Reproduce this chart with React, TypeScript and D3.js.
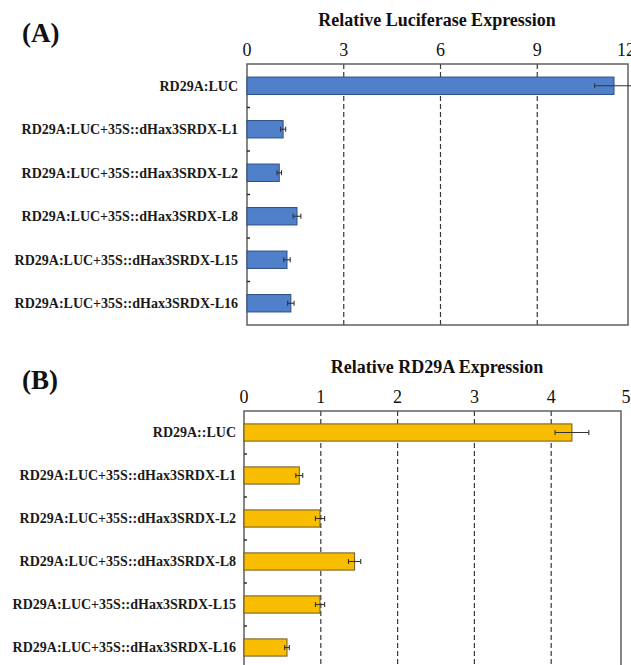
import React from "react";
import * as d3 from "d3";

// categories for each panel
const categoriesA = [
  "RD29A:LUC",
  "RD29A:LUC+35S::dHax3SRDX-L1",
  "RD29A:LUC+35S::dHax3SRDX-L2",
  "RD29A:LUC+35S::dHax3SRDX-L8",
  "RD29A:LUC+35S::dHax3SRDX-L15",
  "RD29A:LUC+35S::dHax3SRDX-L16",
];
const categoriesB = [
  "RD29A::LUC",
  "RD29A:LUC+35S::dHax3SRDX-L1",
  "RD29A:LUC+35S::dHax3SRDX-L2",
  "RD29A:LUC+35S::dHax3SRDX-L8",
  "RD29A:LUC+35S::dHax3SRDX-L15",
  "RD29A:LUC+35S::dHax3SRDX-L16",
];

// values
const luciferase = [11.38, 1.12, 1.0, 1.55, 1.24, 1.36];
const luciferaseErr = [0.6, 0.08, 0.07, 0.12, 0.1, 0.1];
const rd29a = [4.27, 0.72, 0.99, 1.44, 0.99, 0.56];
const rd29aErr = [0.22, 0.045, 0.06, 0.08, 0.06, 0.03];

const ticksA = [0, 3, 6, 9, 12];
const ticksB = [0, 1, 2, 3, 4, 5];

const W = 631;
const H = 665;
const FONT = "Liberation Serif, DejaVu Serif, Times New Roman, serif";

type PanelProps = {
  tag: string;
  title: string;
  cats: string[];
  values: number[];
  errs: number[];
  ticks: number[];
  x0: number;
  x1: number;
  frameRight: number;
  top: number;
  step: number;
  labelX: number;
  fill: string;
  stroke: string;
};

const Panel = (p: PanelProps) => {
  const max = p.ticks[p.ticks.length - 1];
  const x = d3.scaleLinear().domain([0, max]).range([p.x0, p.x1]);
  const bottom = p.top + p.step * p.cats.length;
  const y = d3
    .scaleBand()
    .domain(p.cats)
    .range([p.top, bottom])
    .paddingInner(0.6)
    .paddingOuter(0.3);
  const bw = y.bandwidth();
  const gridColor = "#3a3a3a";
  const frameColor = "#555";

  return (
    <g style={{ fontFamily: FONT }}>
      {/* panel tag and title */}
      <text x={22} y={p.top - 22} fontWeight="bold" fontSize={27} fill="#111">
        {p.tag}
      </text>
      <text x={437} y={p.top - 38} textAnchor="middle" fontWeight="bold" fontSize={18} fill="#111">
        {p.title}
      </text>

      {/* top axis labels (last one pulled in a little, like the cropped original) */}
      {p.ticks.map((t) => (
        <text
          key={t}
          x={Math.min(x(t), W - 5)}
          y={p.top - 8}
          textAnchor="middle"
          fontSize={18}
          fill="#111"
        >
          {t}
        </text>
      ))}

      {/* dashed grid lines */}
      {p.ticks.slice(1).map((t) =>
        x(t) < p.frameRight - 2 ? (
          <line
            key={"g" + t}
            x1={x(t)}
            x2={x(t)}
            y1={p.top}
            y2={bottom}
            stroke={gridColor}
            strokeWidth={1.2}
            strokeDasharray="5,3"
          />
        ) : null
      )}

      {/* frame */}
      <rect
        x={p.x0}
        y={p.top}
        width={p.frameRight - p.x0}
        height={bottom - p.top}
        fill="none"
        stroke={frameColor}
        strokeWidth={1.4}
      />

      {/* small ticks on category axis */}
      {p.cats.slice(1).map((c) => {
        const yy = (y(c) as number) - (y.step() - bw) / 2;
        return (
          <line key={"t" + c} x1={p.x0} x2={p.x0 + 3} y1={yy} y2={yy} stroke="#222" strokeWidth={1.4} />
        );
      })}

      {/* bars */}
      {p.cats.map((c, i) => (
        <rect
          key={"b" + c}
          x={x(0)}
          y={y(c) as number}
          width={x(p.values[i]) - x(0)}
          height={bw}
          fill={p.fill}
          stroke={p.stroke}
          strokeWidth={1}
        />
      ))}

      {/* error bars */}
      {p.cats.map((c, i) => {
        const cy = (y(c) as number) + bw / 2;
        const lo = x(p.values[i] - p.errs[i]);
        const hi = x(p.values[i] + p.errs[i]);
        return (
          <g key={"e" + c} stroke="#333" strokeWidth={1.1}>
            <line x1={lo} x2={hi} y1={cy} y2={cy} />
            <line x1={lo} x2={lo} y1={cy - 2.5} y2={cy + 2.5} />
            <line x1={hi} x2={hi} y1={cy - 2.5} y2={cy + 2.5} />
          </g>
        );
      })}

      {/* category labels */}
      {p.cats.map((c) => (
        <text
          key={"l" + c}
          x={p.labelX}
          y={(y(c) as number) + bw / 2}
          dy="0.35em"
          textAnchor="end"
          fontWeight="bold"
          fontSize={14}
          fill="#1a1a1a"
        >
          {c}
        </text>
      ))}
    </g>
  );
};

export default function App() {
  return (
    <svg
      width={W}
      height={H}
      viewBox={`0 0 ${W} ${H}`}
      style={{ position: "absolute", left: 0, top: 0, background: "#fff" }}
    >
      <rect width={W} height={H} fill="#fff" />
      <Panel
        tag="(A)"
        title="Relative Luciferase Expression"
        cats={categoriesA}
        values={luciferase}
        errs={luciferaseErr}
        ticks={ticksA}
        x0={247}
        x1={634}
        frameRight={628}
        top={64}
        step={43.5}
        labelX={238}
        fill="#4f80c9"
        stroke="#2c4f86"
      />
      <Panel
        tag="(B)"
        title="Relative RD29A Expression"
        cats={categoriesB}
        values={rd29a}
        errs={rd29aErr}
        ticks={ticksB}
        x0={244}
        x1={628}
        frameRight={621}
        top={411}
        step={43}
        labelX={236}
        fill="#f9bd00"
        stroke="#6e5a26"
      />
    </svg>
  );
}
